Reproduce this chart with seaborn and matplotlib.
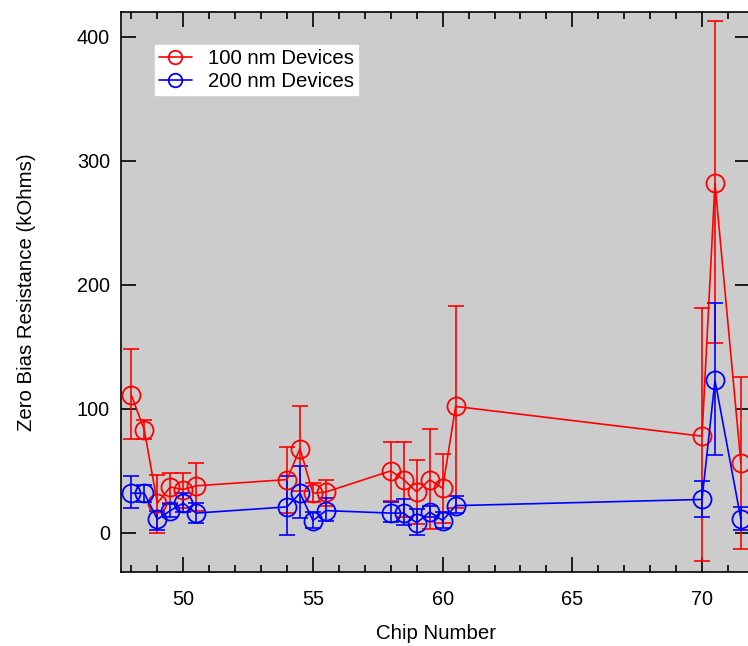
import numpy as np
import pandas as pd
import seaborn as sns
import matplotlib
matplotlib.use('Agg')
import matplotlib.pyplot as plt
from matplotlib.ticker import MultipleLocator

# chip numbers
chips = [48, 48.5, 49, 49.5, 50, 50.5, 54, 54.5, 55, 55.5,
         58, 58.5, 59, 59.5, 60, 60.5, 70, 70.5, 71.5]

# 100 nm devices
r100 = [111, 83, 24, 37, 35, 38, 43, 68, 32, 33,
        50, 43, 33, 43, 36, 102, 78, 282, 56]
r100_lo = [76, 76, 0, 24, 20, 18, 16, 34, 25, 22,
           26, 13, 7, 3, 8, 20, -23, 153, -13]
r100_hi = [148, 91, 47, 48, 48, 56, 69, 102, 40, 43,
           73, 73, 59, 84, 64, 183, 181, 413, 126]

# 200 nm devices
r200 = [32, 32, 11, 18, 24, 16, 21, 32, 10, 18,
        16, 16, 8, 17, 10, 22, 27, 123, 11]
r200_lo = [20, 25, 2, 13, 17, 8, -2, 12, 4, 10,
           9, 6, -2, 13, 4, 16, 13, 63, 2]
r200_hi = [46, 39, 18, 23, 32, 24, 46, 54, 17, 28,
           25, 27, 19, 22, 17, 30, 42, 185, 21]

sns.set_style('ticks', {'axes.edgecolor': 'black', 'text.color': 'black',
                        'xtick.color': 'black', 'ytick.color': 'black',
                        'axes.labelcolor': 'black'})
plt.rcParams['font.family'] = ['Liberation Sans', 'DejaVu Sans']

fig = plt.figure(figsize=(7.48, 6.46), dpi=100)
ax = fig.add_axes([121 / 748, 1 - 572 / 646, 629 / 748, 560 / 646])
ax.set_facecolor('#cccccc')

series = [('100 nm Devices', r100, r100_lo, r100_hi, 'red'),
          ('200 nm Devices', r200, r200_lo, r200_hi, 'blue')]

for label, y, lo, hi, col in series:
    y = np.array(y)
    yerr = [y - np.array(lo), np.array(hi) - y]
    ax.errorbar(chips, y, yerr=yerr, fmt='none', ecolor=col,
                elinewidth=1.2, capsize=5.5, capthick=1.2, zorder=2)
    df = pd.DataFrame({'chip': chips, 'res': y})
    sns.lineplot(data=df, x='chip', y='res', ax=ax, color=col, lw=1.2,
                 marker='o', markersize=13, markerfacecolor='none',
                 markeredgecolor=col, markeredgewidth=1.3,
                 label=label, zorder=3)

ax.set_xlim(47.6, 71.85)
ax.set_ylim(-31.5, 420)
ax.xaxis.set_major_locator(MultipleLocator(5))
ax.xaxis.set_minor_locator(MultipleLocator(1))
ax.yaxis.set_major_locator(MultipleLocator(100))
ax.tick_params(which='major', direction='in', length=11, width=1.2,
               top=True, right=True, labelsize=14.3)
ax.tick_params(axis='x', which='major', pad=13)
ax.tick_params(axis='y', which='major', pad=8)
ax.tick_params(which='minor', direction='in', length=5, width=1.2,
               top=True, right=True)
ax.tick_params(axis='y', which='minor', left=False, right=False)
for s in ax.spines.values():
    s.set_linewidth(1.2)

ax.set_xlabel('Chip Number', fontsize=14.7, labelpad=11)
ax.set_ylabel('Zero Bias Resistance (kOhms)', fontsize=14.7, labelpad=29)

leg = ax.legend(loc='upper left', bbox_to_anchor=(0.054, 0.941),
                borderaxespad=0, fontsize=14.7, frameon=True,
                fancybox=False, framealpha=1, facecolor='white',
                edgecolor='white', handlelength=1.6, handletextpad=0.8,
                borderpad=0.2, labelspacing=0.2, markerscale=0.75)

fig.savefig('out.png', dpi=100)
